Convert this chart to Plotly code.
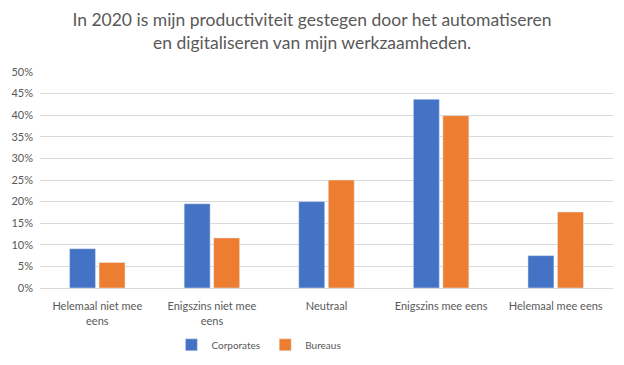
import plotly.graph_objects as go

categories = ["Helemaal niet mee<br>eens", "Enigszins niet mee<br>eens", "Neutraal",
              "Enigszins mee eens", "Helemaal mee eens"]
corporates = [9.1, 19.5, 20.0, 43.7, 7.5]
bureaus = [5.9, 11.6, 25.0, 39.9, 17.6]
series_names = ["Corporates", "Bureaus"]
title_text = ("In 2020 is mijn productiviteit gestegen door het automatiseren<br>"
              "en digitaliseren van mijn werkzaamheden.")

FONT = "Lato, Carlito, Calibri, 'Open Sans', sans-serif"
GRAY = "#595959"

fig = go.Figure()
fig.add_trace(go.Bar(x=categories, y=corporates, name=series_names[0], marker_color="#4472C4"))
fig.add_trace(go.Bar(x=categories, y=bureaus, name=series_names[1], marker_color="#ED7D31"))

fig.update_layout(
    width=608, height=349,
    margin=dict(l=32, r=3, t=64, b=69, autoexpand=False),
    paper_bgcolor="white", plot_bgcolor="white",
    font=dict(family=FONT, color=GRAY, size=12),
    title=dict(text=title_text, x=0.5, xanchor="center", y=0.947, yanchor="top",
               font=dict(family=FONT, size=17.5, color=GRAY)),
    barmode="group", bargap=0.485, bargroupgap=0.12,
    showlegend=True,
    legend=dict(orientation="h", x=0.382, xanchor="center", y=-0.263, yanchor="middle",
                font=dict(size=10, color=GRAY), itemwidth=30, tracegroupgap=0),
    xaxis=dict(showline=True, linecolor="#d9d9d9", linewidth=1, ticks="", automargin=False,
               tickfont=dict(size=11, color=GRAY), ticklabelstandoff=8),
    yaxis=dict(range=[0, 50], dtick=5, ticksuffix="%", showgrid=True, gridcolor="#d9d9d9",
               gridwidth=1, zeroline=False, tickfont=dict(size=11, color=GRAY),
               ticks="", ticklabelstandoff=6, automargin=False),
)

fig.write_html("out.html")
